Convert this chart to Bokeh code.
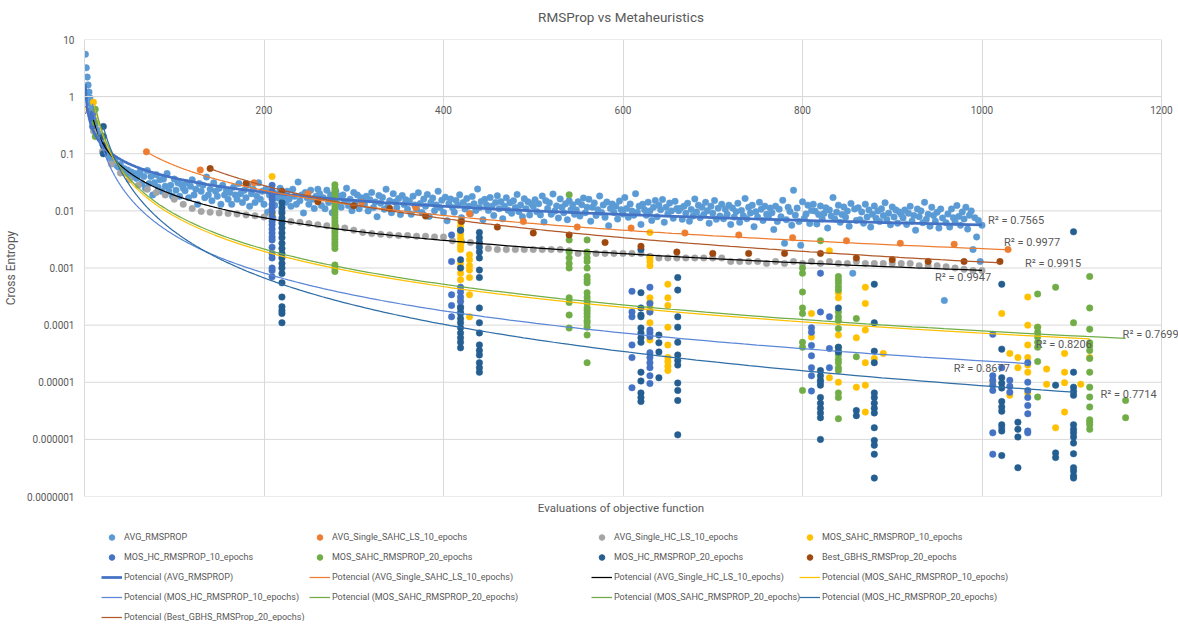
import numpy as np
from bokeh.plotting import figure
from bokeh.layouts import column
from bokeh.models import (Range1d, FixedTicker, CustomJSTickFormatter, Label,
                          Legend, LegendItem, ColumnDataSource)
from bokeh.core.properties import value
from bokeh.embed import file_html
from bokeh.resources import INLINE

# ---------------- data ----------------
RMSPROP_EVALS = list(range(1, 11)) + list(range(12, 1001, 2))
AVG_RMSPROP = [
    5.5, 3.2, 2.2, 1.6, 1.2, 0.95, 0.75, 0.6, 0.48, 0.4,
    0.32, 0.26, 0.22, 0.18, 0.15, 0.13, 0.11, 0.1, 0.085, 0.08, 0.07, 0.075, 0.062, 0.058, 0.065, 0.05, 0.055, 0.046, 0.052, 0.042, 0.048, 0.04, 0.045, 0.037, 0.043,
    0.049, 0.030, 0.040, 0.025, 0.051, 0.030, 0.040, 0.019, 0.031, 0.043, 0.026, 0.035, 0.022, 0.036, 0.027, 0.045, 0.022, 0.028, 0.018, 0.036, 0.023, 0.031, 0.018, 0.029, 0.025,
    0.0225, 0.031, 0.017, 0.027, 0.035, 0.019, 0.024, 0.013, 0.030, 0.022, 0.028, 0.017, 0.039, 0.019, 0.024, 0.015, 0.031, 0.022, 0.018, 0.025, 0.013, 0.028, 0.019, 0.023, 0.016,
    0.021, 0.013, 0.026, 0.019, 0.016, 0.030, 0.020, 0.014, 0.023, 0.017, 0.028, 0.012, 0.020, 0.024, 0.014, 0.018, 0.031, 0.016, 0.022, 0.013, 0.024, 0.0095, 0.019, 0.022, 0.016,
    0.0126, 0.020, 0.0168, 0.025, 0.010, 0.018, 0.014, 0.022, 0.016, 0.012, 0.024, 0.018, 0.013, 0.032, 0.015, 0.019, 0.0092, 0.021, 0.017, 0.013, 0.023, 0.016, 0.011, 0.018, 0.024,
    0.020, 0.0124, 0.017, 0.0109, 0.023, 0.014, 0.019, 0.0093, 0.0155, 0.022, 0.013, 0.018, 0.0116, 0.019, 0.0147, 0.025, 0.0124, 0.016, 0.0101, 0.021, 0.014, 0.019, 0.0109, 0.017, 0.0155,
    0.0129, 0.018, 0.0100, 0.0157, 0.021, 0.0114, 0.0143, 0.0079, 0.0186, 0.0136, 0.0172, 0.0107, 0.024, 0.0122, 0.015, 0.0093, 0.020, 0.0143, 0.0114, 0.0164, 0.0086, 0.0186, 0.0129, 0.0157, 0.0107,
    0.0147, 0.0087, 0.0181, 0.0127, 0.0107, 0.0208, 0.0134, 0.0094, 0.0161, 0.0121, 0.0194, 0.0080, 0.0141, 0.0168, 0.0101, 0.0127, 0.0221, 0.0114, 0.0154, 0.0094, 0.0174, 0.0067, 0.0134, 0.0161, 0.0114,
    0.0095, 0.0152, 0.0127, 0.0191, 0.0076, 0.0140, 0.0108, 0.0165, 0.0121, 0.0089, 0.0178, 0.0133, 0.0102, 0.0241, 0.0114, 0.0146, 0.0070, 0.0159, 0.0127, 0.0102, 0.0171, 0.0121, 0.0083, 0.0140, 0.0184,
    0.0109, 0.0145, 0.0073, 0.0121, 0.0169, 0.0103, 0.0139, 0.0091, 0.0151, 0.0115, 0.0194, 0.0097, 0.0127, 0.0079, 0.0163, 0.0109, 0.0145, 0.0085, 0.0133, 0.0121, 0.0157, 0.0097, 0.0133, 0.0085, 0.0182,
    0.0064, 0.0151, 0.0110, 0.0139, 0.0087, 0.0197, 0.0099, 0.0122, 0.0075, 0.0162, 0.0116, 0.0093, 0.0133, 0.0070, 0.0151, 0.0104, 0.0128, 0.0087, 0.0104, 0.0145, 0.0081, 0.0128, 0.0168, 0.0093, 0.0116,
    0.0160, 0.0066, 0.0116, 0.0138, 0.0083, 0.0105, 0.0182, 0.0094, 0.0127, 0.0077, 0.0143, 0.0055, 0.0110, 0.0132, 0.0094, 0.0121, 0.0072, 0.0149, 0.0105, 0.0088, 0.0171, 0.0110, 0.0077, 0.0132, 0.0099,
    0.0084, 0.0200, 0.0095, 0.0121, 0.0058, 0.0131, 0.0105, 0.0084, 0.0142, 0.0100, 0.0068, 0.0116, 0.0152, 0.0079, 0.0126, 0.0105, 0.0158, 0.0063, 0.0116, 0.0089, 0.0137, 0.0100, 0.0074, 0.0147, 0.0110,
    0.0101, 0.0111, 0.0071, 0.0121, 0.0091, 0.0136, 0.0066, 0.0106, 0.0081, 0.0162, 0.0096, 0.0126, 0.0076, 0.0116, 0.0086, 0.0141, 0.0101, 0.0061, 0.0121, 0.0091, 0.0152, 0.0071, 0.0111, 0.0081, 0.0131,
    0.0073, 0.0107, 0.0087, 0.0126, 0.0058, 0.0112, 0.0078, 0.0097, 0.0136, 0.0063, 0.0102, 0.0082, 0.0165, 0.0073, 0.0116, 0.0092, 0.0126, 0.0053, 0.0097, 0.0078, 0.0141, 0.0107, 0.0068, 0.0121, 0.0087,
    0.0079, 0.0112, 0.0093, 0.0047, 0.0121, 0.0065, 0.0107, 0.0079, 0.0153, 0.0027, 0.0070, 0.0116, 0.0098, 0.0056, 0.023, 0.0084, 0.0112, 0.0065, 0.0025, 0.0144, 0.0074, 0.0088, 0.0126, 0.0060, 0.0102,
    0.0131, 0.0099, 0.0059, 0.0086, 0.0122, 0.0072, 0.0090, 0.0113, 0.0050, 0.0104, 0.0081, 0.0171, 0.0072, 0.0095, 0.0126, 0.0063, 0.0086, 0.0117, 0.0077, 0.0099, 0.0054, 0.0135, 0.00081, 0.0108, 0.0068,
    0.0113, 0.0070, 0.0096, 0.0061, 0.0131, 0.0078, 0.0104, 0.0052, 0.0087, 0.0122, 0.0074, 0.0100, 0.0065, 0.0109, 0.0083, 0.0139, 0.0070, 0.0091, 0.0057, 0.0117, 0.0078, 0.0104, 0.0061, 0.0096, 0.0087,
    0.0075, 0.0104, 0.0058, 0.0091, 0.0120, 0.0066, 0.0083, 0.0046, 0.0108, 0.0079, 0.0100, 0.0062, 0.0141, 0.0071, 0.0087, 0.0054, 0.0116, 0.0083, 0.0066, 0.0095, 0.0050, 0.0108, 0.0075, 0.00027, 0.0062,
    0.0088, 0.0052, 0.0108, 0.0076, 0.0064, 0.0124, 0.0080, 0.0056, 0.0096, 0.0072, 0.0116, 0.0048, 0.0084, 0.0100, 0.0021, 0.0076, 0.0035, 0.0068, 0.0013, 0.0056,
]

SAHC_LS_EVALS = [69, 129, 189, 249, 309, 369, 429, 489, 549, 609, 669, 729, 789, 849, 909, 969, 1029]
AVG_SINGLE_SAHC_LS = [0.108, 0.052, 0.031, 0.020, 0.014, 0.0115, 0.0089, 0.0065, 0.0052, 0.005, 0.0041,
                      0.0038, 0.0034, 0.003, 0.0027, 0.0026, 0.0021]

HC_LS_EVALS = list(range(10, 1001, 10))
AVG_SINGLE_HC_LS = [
    0.25, 0.11, 0.066, 0.046, 0.035, 0.028, 0.024, 0.021, 0.019, 0.016,
    0.013, 0.011, 0.0098, 0.0095, 0.0092, 0.009, 0.0088, 0.0085, 0.0082, 0.0078,
    0.0075, 0.0068, 0.0065, 0.0063, 0.006, 0.0057, 0.0055, 0.0053, 0.005, 0.0046,
    0.0042, 0.004, 0.0039, 0.0038, 0.0037, 0.0037, 0.0036, 0.0036, 0.0035, 0.0035,
    0.003, 0.0029, 0.0028, 0.0027, 0.0022, 0.0021, 0.0021, 0.0021, 0.0021, 0.0021,
    0.0021, 0.0021, 0.0021, 0.002, 0.0018, 0.0018, 0.0018, 0.0018, 0.0018, 0.0018,
    0.0018, 0.0018, 0.0016, 0.0015, 0.0015, 0.0015, 0.0015, 0.0015, 0.0015, 0.0015,
    0.0015, 0.0013, 0.0013, 0.0013, 0.0013, 0.0012, 0.0013, 0.0012, 0.0013, 0.0012,
    0.0013, 0.0012, 0.0013, 0.0012, 0.0012, 0.0013, 0.0012, 0.0012, 0.0012, 0.0012,
    0.0012, 0.0012, 0.0011, 0.0011, 0.0011, 0.00105, 0.001, 0.00095, 0.0009, 0.0009,
]

# MOS series: clusters of (evaluations, [cross entropy values])
MOS_SAHC_RMSPROP_10 = [
    (10, [0.8, 0.5, 0.3]),
    (209, [0.04, 0.021, 0.02, 0.0092, 0.009, 0.0085]),
    (419, [0.0064, 0.0054, 0.0046, 0.0039, 0.0033, 0.0028, 0.0024, 0.0021, 0.0012, 0.001, 0.00081, 0.00062, 0.00027]),
    (429, [0.0017, 0.0014, 0.0011, 0.00092, 0.00068, 0.00034, 0.00014]),
    (630, [0.0042, 0.0015, 0.0013, 0.0011, 0.0003, 0.00025, 0.00021, 0.00018, 0.00017, 0.00011, 5.5e-5]),
    (650, [0.00052, 0.0003, 0.00022, 9.2e-5, 4.5e-5, 2.7e-5, 2.3e-5, 1.9e-5, 1.6e-5]),
    (810, [0.00016, 6.2e-5]),
    (830, [0.002, 1.2e-5]),
    (840, [0.00037, 0.0003, 6.7e-5, 1e-5]),
    (860, [6e-5, 8.2e-6]),
    (870, [0.00046, 0.00024, 8.2e-5, 2.2e-5, 8.9e-6, 3e-6]),
    (880, [2.6e-5]),
    (890, [3.2e-5]),
    (1012, [1e-5]),
    (1022, [0.00016]),
    (1031, [3.2e-5, 5.9e-6]),
    (1040, [2.7e-5, 1.8e-5]),
    (1051, [0.00031, 0.0001, 4.5e-5, 2.7e-5, 2e-5, 1.5e-5, 6.5e-6]),
    (1062, [9.2e-5]),
    (1072, [1.7e-5, 9.2e-6]),
    (1082, [1.6e-6]),
    (1092, [3.2e-5, 1.5e-5, 9.8e-6, 3e-6]),
    (1110, [9.2e-6]),
    (1120, [2.7e-5]),
]

MOS_HC_RMSPROP_10 = [
    (9, [0.5, 0.4, 0.3]),
    (209, [0.028, 0.022, 0.019, 0.016, 0.013, 0.011, 0.0095, 0.0078, 0.0065, 0.0057, 0.0048, 0.0041,
           0.0035, 0.0031, 0.0023, 0.0018, 0.0015, 0.001, 0.0009, 0.0007]),
    (409, [0.0038, 0.0013, 0.00034, 0.00022, 0.00014]),
    (419, [0.0046, 0.00046, 0.00038, 0.00031, 0.00026, 0.00021, 0.00017]),
    (610, [0.00039, 0.00017, 0.00014, 4.5e-5, 2.7e-5, 8e-6]),
    (630, [0.00046, 0.00024, 0.00017, 8.2e-5, 7.3e-5, 6.3e-5, 3.3e-5, 2.7e-5, 2.2e-5, 1.8e-5, 1.3e-5, 9.5e-6]),
    (810, [9e-5, 7.5e-5, 4.4e-5, 2.9e-5, 1.8e-5, 1.3e-5, 7e-6]),
    (820, [0.00081, 0.00017, 1e-5]),
    (830, [0.00014, 3.9e-5, 1.8e-5]),
    (1012, [6.9e-5, 1.3e-5, 1.08e-5, 8.9e-6, 7.2e-6, 1.3e-6, 5.5e-7]),
    (1022, [1.8e-5, 1.6e-6]),
    (1031, [1.08e-5, 8.5e-6, 6.7e-6]),
    (1051, [2.2e-5, 1e-5, 7.2e-6, 5.4e-6, 3.9e-6, 2.8e-6, 1.4e-6, 1.3e-6]),
]

MOS_SAHC_RMSPROP_20 = [
    (12, [0.6, 0.35, 0.2]),
    (279, [0.0286, 0.025, 0.022, 0.02, 0.0177, 0.0156, 0.0139, 0.0122, 0.0108, 0.0095, 0.0085, 0.0075,
           0.0066, 0.0059, 0.0052, 0.0046, 0.0041, 0.0036, 0.0032, 0.0028, 0.0025, 0.0022, 0.00113, 0.001, 0.00087]),
    (540, [0.0191, 0.0031, 0.0019, 0.0015, 0.0012, 0.001, 0.0003, 0.00025, 0.00015, 8.9e-5]),
    (560, [0.0031, 0.0019, 0.0015, 0.0013, 0.001, 0.00071, 0.00062, 0.00055, 0.00037, 0.00031, 0.00027,
           0.00024, 0.0002, 0.00018, 0.00016, 0.00014, 0.00012, 0.00011, 9.2e-5, 6.7e-5, 2.2e-5]),
    (800, [0.001, 0.00081, 0.00038, 0.0002, 0.00016, 5e-5, 4.1e-5, 7.2e-6]),
    (820, [0.003]),
    (840, [0.00071, 0.00062, 0.00055, 0.00047, 0.00041, 0.00017, 0.00014, 0.00012, 8.7e-5, 4.1e-5, 3.5e-5,
           3e-5, 2.5e-5, 2.2e-5, 1.8e-5, 1.6e-5, 6.5e-6, 5.4e-6, 2.3e-6]),
    (860, [0.00013, 2.8e-5]),
    (1062, [0.00035, 9.2e-5, 7.5e-5, 6.2e-5, 5e-5, 4.1e-5, 2.3e-5, 5.5e-6]),
    (1082, [0.00046]),
    (1102, [0.00011]),
    (1120, [0.00071, 0.0002, 8.5e-5, 4.9e-5, 4.3e-5, 3.6e-5, 2.6e-5, 1.5e-5, 8.2e-6, 5.5e-6, 3.7e-6,
            2.2e-6, 2e-6, 1.8e-6, 1.5e-6]),
    (1160, [4.8e-6, 2.4e-6]),
]

MOS_HC_RMSPROP_20 = [
    (21, [0.3, 0.2, 0.14, 0.1]),
    (220, [0.0139, 0.0113, 0.0092, 0.0075, 0.0061, 0.005, 0.0041, 0.0034, 0.0027, 0.0022, 0.0018, 0.0015,
           0.0012, 0.001, 0.0008, 0.00055, 0.00031, 0.00021, 0.00018, 0.00016, 0.00011]),
    (419, [0.0046, 0.0014, 0.001, 0.0002, 0.00016, 0.00013, 0.00011, 9e-5, 7.3e-5, 6e-5, 5e-5, 4e-5]),
    (440, [0.0042, 0.0034, 0.0028, 0.0023, 0.0019, 0.0015, 0.00092, 0.00068, 0.0002, 0.00011, 7.3e-5, 4.5e-5,
           3.6e-5, 3e-5, 2.2e-5, 1.8e-5, 1.5e-5]),
    (620, [0.0021, 0.00037, 0.0002, 0.00015, 0.00014, 8.9e-5, 7.3e-5, 6e-5, 5e-5, 1.5e-5, 1.05e-5, 6.5e-6, 5.4e-6, 4.6e-6]),
    (640, [6.7e-5, 4.9e-5, 3.4e-5, 1.2e-5]),
    (661, [0.00068, 0.00041, 0.00014, 9.2e-5, 5e-5, 3e-5, 2.4e-5, 2e-5, 9.7e-6, 7.2e-6, 4.8e-6, 1.2e-6]),
    (820, [1.6e-5, 1.3e-5, 1.08e-5, 8.9e-6, 5.4e-6, 4.3e-6, 3.5e-6, 2.9e-6, 2.4e-6, 1e-6]),
    (840, [0.0002, 4.1e-5, 3.4e-5]),
    (860, [3.2e-6, 2.6e-6]),
    (880, [0.00052, 0.00011, 3.5e-5, 2.2e-5, 6.5e-6, 5.4e-6, 4.3e-6, 3.5e-6, 2.9e-6, 1.6e-6, 9.6e-7, 7.9e-7, 5.5e-7, 2.1e-7]),
    (1022, [0.00052, 3.8e-5, 1.2e-5, 9.6e-6, 7.9e-6, 4.6e-6, 3.7e-6, 3.1e-6, 1.8e-6, 1.4e-6, 5.2e-7]),
    (1040, [2e-6, 1.5e-6, 1.1e-6, 3.2e-7]),
    (1082, [8.9e-6, 5.8e-7, 4.8e-7]),
    (1102, [0.0043, 1.5e-5, 8.2e-6, 6.9e-6, 5.9e-6, 1.8e-6, 1.5e-6, 1.3e-6, 1.1e-6, 8.6e-7, 5.6e-7, 3.2e-7, 2.8e-7, 2.3e-7, 2.1e-7]),
]

GBHS_EVALS = [140, 180, 220, 260, 300, 340, 380, 420, 460, 500, 540, 580, 620, 660, 700, 740, 780, 820,
              860, 900, 940, 980, 1020]
BEST_GBHS_RMSPROP_20 = [0.055, 0.030, 0.022, 0.0145, 0.0123, 0.011, 0.0081, 0.0065, 0.0052, 0.0041, 0.0038,
                        0.0028, 0.0024, 0.0019, 0.0018, 0.0018, 0.0018, 0.0018, 0.0015, 0.0014, 0.0013, 0.0013, 0.0013]

SERIES_NAMES = ["AVG_RMSPROP", "AVG_Single_SAHC_LS_10_epochs", "AVG_Single_HC_LS_10_epochs",
                "MOS_SAHC_RMSPROP_10_epochs", "MOS_HC_RMSPROP_10_epochs", "MOS_SAHC_RMSPROP_20_epochs",
                "MOS_HC_RMSPROP_20_epochs", "Best_GBHS_RMSProp_20_epochs"]
TREND_A = [1.64, 52.0, 8.09, 102.0, 94.4, 112.0, 1096.0, 700.0]
TREND_B = [-0.82, -1.459, -1.316, -2.05, -2.2, -2.05, -2.7, -1.913]
R2_LABELS = ["R² = 0.7565", "R² = 0.9977", "R² = 0.9947", "R² = 0.8206", "R² = 0.8677",
             "R² = 0.7699", "R² = 0.7714", "R² = 0.9915"]

TITLE = "RMSProp vs Metaheuristics"
X_LABEL = "Evaluations of objective function"
Y_LABEL = "Cross Entropy"


def flatten(clusters):
    xs, ys = [], []
    for x, vals in clusters:
        xs += [x] * len(vals)
        ys += list(vals)
    return xs, ys


def pair(xs, ys):
    n = min(len(xs), len(ys))
    return list(xs[:n]), list(ys[:n])


SERIES_XY = [
    pair(RMSPROP_EVALS, AVG_RMSPROP),
    pair(SAHC_LS_EVALS, AVG_SINGLE_SAHC_LS),
    pair(HC_LS_EVALS, AVG_SINGLE_HC_LS),
    flatten(MOS_SAHC_RMSPROP_10),
    flatten(MOS_HC_RMSPROP_10),
    flatten(MOS_SAHC_RMSPROP_20),
    flatten(MOS_HC_RMSPROP_20),
    pair(GBHS_EVALS, BEST_GBHS_RMSPROP_20),
]

# ---------------- styling ----------------
MARKER_COLORS = ["#5B9BD5", "#ED7D31", "#A5A5A5", "#FFC000", "#4472C4", "#70AD47", "#255E91", "#9E480E"]
TREND_COLORS = ["#4472C4", "#ED7D31", "#000000", "#FFC000", "#5B87D6", "#70AD47", "#2F6EA6", "#B0592A"]
TREND_WIDTHS = [2.75, 1.25, 1.25, 1.25, 1.25, 1.25, 1.25, 1.25]
LABEL_OFFSETS = [(6, -4), (-4, -7), (-47, 7), (-54, 6), (-74, 5), (-3, -4), (27, 2), (25, 1)]

FONT = "Roboto"
GREY = "#595959"
GRID = "#D9D9D9"

LEFT = 75
FRAME_W, FRAME_H = 1094, 457
PLOT_W = 1077                     # width of the 0..1200 plot area in px
X_END = 1200 * FRAME_W / PLOT_W   # extra room right of the plot area for labels
TITLE_H, MAIN_TOP, MAIN_BOTTOM, LEG_H = 33, 6, 5, 120   # 33 + 6 + 457 + 5 + 120 = 621
CENTER_X = PLOT_W / 2 - 2

# ---------------- title strip ----------------
tp = figure(width=LEFT + FRAME_W, height=TITLE_H, output_backend="svg", toolbar_location=None,
            x_axis_location=None, y_axis_location=None, min_border=0, title=None,
            x_range=Range1d(0, 1), y_range=Range1d(0, 1))
tp.outline_line_color = None
tp.grid.visible = False
tp.add_layout(Label(x=CENTER_X, y=TITLE_H - 16, x_units="screen", y_units="screen", text=TITLE,
                    text_align="center", text_baseline="middle", text_font=FONT,
                    text_font_size="13.5px", text_color=GREY))

# ---------------- main plot ----------------
p = figure(frame_width=FRAME_W, frame_height=FRAME_H, output_backend="svg", toolbar_location=None,
           x_range=Range1d(0, X_END), y_range=Range1d(1e-7, 10), y_axis_type="log", title=None,
           min_border_left=LEFT, min_border_right=0, min_border_top=MAIN_TOP, min_border_bottom=MAIN_BOTTOM)
p.outline_line_color = None
p.background_fill_color = "white"

yticks = [1e-7, 1e-6, 1e-5, 1e-4, 1e-3, 1e-2, 1e-1, 1, 10]
p.yaxis.ticker = FixedTicker(ticks=yticks)
p.yaxis.formatter = CustomJSTickFormatter(code="""
const e = Math.round(Math.log10(tick));
return e >= 0 ? String(Math.round(tick)) : tick.toFixed(-e);
""")
p.yaxis.axis_label = Y_LABEL
p.yaxis.axis_label_text_font = FONT
p.yaxis.axis_label_text_font_size = "12px"
p.yaxis.axis_label_text_font_style = "normal"
p.yaxis.axis_label_text_color = GREY
p.yaxis.axis_label_standoff = 6
p.yaxis.major_label_text_font = FONT
p.yaxis.major_label_text_font_size = "10px"
p.yaxis.major_label_text_color = GREY
p.yaxis.major_tick_out = 0
p.yaxis.major_tick_in = 0
p.yaxis.minor_tick_line_color = None
p.yaxis.major_label_standoff = 10
p.yaxis.axis_line_color = GRID
p.ygrid.visible = False
# horizontal gridlines limited to the plot area (0..1200)
p.segment(x0=[0] * len(yticks), x1=[1200] * len(yticks), y0=yticks, y1=yticks,
          line_color=GRID, line_width=1, level="underlay")

xticks = [0, 200, 400, 600, 800, 1000, 1200]
p.xaxis.ticker = FixedTicker(ticks=xticks)
p.xaxis.fixed_location = 1
p.xaxis.bounds = (0, 1200)
p.xaxis.major_label_text_font = FONT
p.xaxis.major_label_text_font_size = "10px"
p.xaxis.major_label_text_color = GREY
p.xaxis.major_tick_out = 0
p.xaxis.major_tick_in = 0
p.xaxis.minor_tick_line_color = None
p.xaxis.major_label_standoff = 9
p.xaxis.axis_line_color = GRID
p.xgrid.ticker = FixedTicker(ticks=xticks)
p.xgrid.grid_line_color = GRID

for (xs, ys), mc in zip(SERIES_XY, MARKER_COLORS):
    p.scatter(xs, ys, size=6.5, marker="circle", fill_color=mc, line_color=mc, line_width=0.5)

lab = dict(x=[], y=[], text=[], xo=[], yo=[])
for (xs, ys), a, b, tc, tw, r2, off in zip(SERIES_XY, TREND_A, TREND_B, TREND_COLORS, TREND_WIDTHS,
                                          R2_LABELS, LABEL_OFFSETS):
    xx = np.geomspace(min(xs), max(xs), 240)
    yy = a * xx ** b
    p.line(xx, yy, line_color=tc, line_width=tw)
    lab["x"].append(xx[-1]); lab["y"].append(yy[-1]); lab["text"].append(r2)
    lab["xo"].append(off[0]); lab["yo"].append(off[1])

p.text(x="x", y="y", text="text", x_offset="xo", y_offset="yo", source=ColumnDataSource(lab),
       text_font=value(FONT), text_font_size="11px", text_color=GREY,
       text_baseline="middle", text_align="left")

# ---------------- x label + legend strip ----------------
lp = figure(width=LEFT + FRAME_W, height=LEG_H, output_backend="svg", toolbar_location=None,
            x_axis_location=None, y_axis_location=None, min_border=0, title=None,
            x_range=Range1d(0, 1), y_range=Range1d(0, 1))
lp.outline_line_color = None
lp.grid.visible = False
lp.add_layout(Label(x=CENTER_X, y=LEG_H - 6, x_units="screen", y_units="screen", text=X_LABEL,
                    text_align="center", text_baseline="middle", text_font=FONT,
                    text_font_size="11.5px", text_color=GREY))

# legend keys only (their single point lies outside the visible range)
mk = [lp.scatter([5], [5], size=6.5, marker="circle", fill_color=c, line_color=c) for c in MARKER_COLORS]
ln = [lp.line([5, 6], [5, 6], line_color=c, line_width=w) for c, w in zip(TREND_COLORS, TREND_WIDTHS)]
P = "Potencial ({})"
N = SERIES_NAMES
col_items = [
    [(N[0], mk[0]), (N[4], mk[4]), (P.format(N[0]), ln[0]), (P.format(N[4]), ln[4]), (P.format(N[7]), ln[7])],
    [(N[1], mk[1]), (N[5], mk[5]), (P.format(N[1]), ln[1]), (P.format(N[5]), ln[5])],
    [(N[2], mk[2]), (N[6], mk[6]), (P.format(N[2]), ln[2]), (P.format(N[5]), ln[5])],
    [(N[3], mk[3]), (N[7], mk[7]), (P.format(N[3]), ln[3]), (P.format(N[6]), ln[6])],
]
col_x = [17, 225, 507, 715]
ROW_H, GAP, TOP = 14, 6, 29
for items, cx in zip(col_items, col_x):
    n = len(items)
    h = n * ROW_H + (n - 1) * GAP
    lg = Legend(items=[LegendItem(label=t, renderers=[r]) for t, r in items],
                location=(cx, LEG_H - TOP - h), orientation="vertical",
                glyph_width=21, glyph_height=ROW_H, label_height=ROW_H, spacing=GAP,
                padding=0, margin=0, label_standoff=2, border_line_color=None,
                background_fill_alpha=0, label_text_font=FONT, label_text_font_size="9px",
                label_text_color=GREY)
    lp.add_layout(lg, "center")

open("out.html", "w").write(file_html(column(tp, p, lp, spacing=0), INLINE))
